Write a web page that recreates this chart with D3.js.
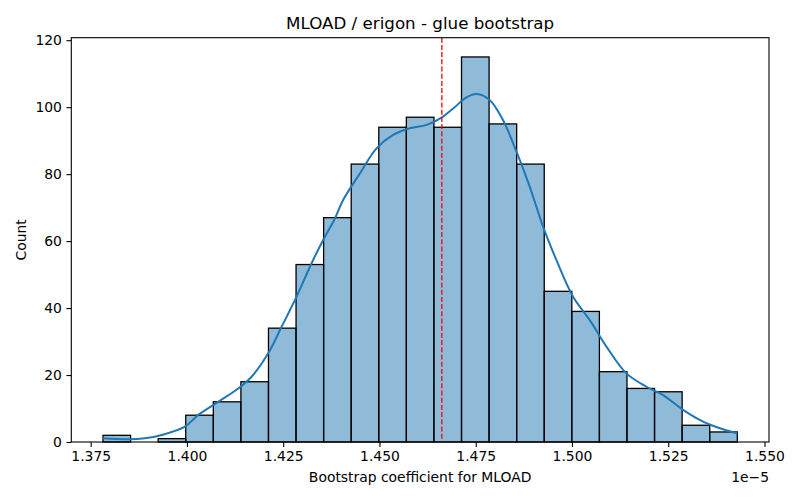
<!DOCTYPE html>
<html>
<head>
<meta charset="utf-8">
<script src="https://cdn.jsdelivr.net/npm/d3@7"></script>
<style>
  body { margin: 0; background: #fff; }
  svg { display: block; font-family: "DejaVu Sans", sans-serif; }
</style>
</head>
<body>
<svg id="chart" width="800" height="500"></svg>
<script>
// Histogram data (values in units of 1e-5)
const binStart = 1.37820;
const binEnd = 1.54293;
const counts = [2, 0, 1, 8, 12, 18, 34, 53, 67, 83, 94, 97, 94, 115, 95, 83, 45, 39, 21, 16, 15, 5, 3];
const xTicks = [1.375, 1.400, 1.425, 1.450, 1.475, 1.500, 1.525, 1.550];
const yTicks = [0, 20, 40, 60, 80, 100, 120];
const meanLine = 1.4662;
// KDE curve (x in 1e-5 units, y in counts)
const kdeX = [1.37820, 1.38476, 1.38909, 1.39343, 1.39948, 1.40293, 1.40812, 1.41331, 1.41679, 1.42110,
              1.42458, 1.42847, 1.43237, 1.43582, 1.43824, 1.44057, 1.44491, 1.44924, 1.45355, 1.45789,
              1.46222, 1.46612, 1.46913, 1.47261, 1.47520, 1.47866, 1.48211, 1.48559, 1.48904, 1.49249,
              1.49597, 1.50028, 1.50462, 1.50895, 1.51414, 1.51933, 1.52364, 1.52884, 1.53403, 1.53922, 1.54293];
const kdeY = [1.1, 0.8, 1.1, 2.1, 4.6, 8.1, 12.0, 16.0, 19.5, 26.5,
              34.4, 43.4, 53.4, 61.3, 66.3, 72.3, 80.2, 87.7, 91.7, 93.7,
              94.7, 96.9, 99.6, 102.9, 103.9, 102.1, 96.1, 86.7, 76.2, 64.3,
              54.3, 43.4, 36.4, 28.5, 20.5, 16.5, 14.0, 9.6, 6.1, 3.8, 2.6];
const title = "MLOAD / erigon - glue bootstrap";
const xLabel = "Bootstrap coefficient for MLOAD";
const yLabel = "Count";
const offsetText = "1e\u22125";

const svg = d3.select("#chart");
const L = 71.3, T = 37.7, R = 769, B = 442;
const W = R - L, H = B - T;

const span = binEnd - binStart;
const x = d3.scaleLinear().domain([binStart - 0.05 * span, binEnd + 0.05 * span]).range([L, R]);
const y = d3.scaleLinear().domain([0, d3.max(counts) * 1.05]).range([B, T]);

const bw = span / counts.length;
const bins = counts.map((c, i) => ({ x0: binStart + i * bw, x1: binStart + (i + 1) * bw, c }));

const g = svg.append("g");
g.selectAll("rect.bar").data(bins.filter(d => d.c > 0)).enter().append("rect")
  .attr("class", "bar")
  .attr("x", d => x(d.x0))
  .attr("width", d => x(d.x1) - x(d.x0))
  .attr("y", d => y(d.c))
  .attr("height", d => y(0) - y(d.c))
  .attr("fill", "rgba(31,119,180,0.5)")
  .attr("stroke", "#000")
  .attr("stroke-width", 1.3);

const line = d3.line().x(d => x(d[0])).y(d => y(d[1])).curve(d3.curveCatmullRom.alpha(0.5));
g.append("path")
  .datum(kdeX.map((v, i) => [v, kdeY[i]]))
  .attr("d", line)
  .attr("fill", "none")
  .attr("stroke", "#1f77b4")
  .attr("stroke-width", 2);

g.append("line")
  .attr("x1", x(meanLine)).attr("x2", x(meanLine))
  .attr("y1", T).attr("y2", B)
  .attr("stroke", "#ff0000").attr("stroke-width", 1.3)
  .attr("stroke-dasharray", "5,2.2");

// spines
svg.append("rect").attr("x", L).attr("y", T).attr("width", W).attr("height", H)
  .attr("fill", "none").attr("stroke", "#000").attr("stroke-width", 1.1);

const fs = "13.9px";
const xAxis = svg.append("g").attr("transform", `translate(0,${B})`)
  .call(d3.axisBottom(x).tickValues(xTicks).tickFormat(d3.format(".3f")).tickSize(4.9).tickSizeOuter(0).tickPadding(4.5));
const yAxis = svg.append("g").attr("transform", `translate(${L},0)`)
  .call(d3.axisLeft(y).tickValues(yTicks).tickFormat(d3.format("d")).tickSize(4.9).tickSizeOuter(0).tickPadding(4.5));
[xAxis, yAxis].forEach(a => {
  a.select(".domain").remove();
  a.selectAll("line").attr("stroke", "#000").attr("stroke-width", 1.1);
  a.selectAll("text").attr("font-size", fs).attr("fill", "#000").attr("font-family", "DejaVu Sans");
});

svg.append("text").attr("x", (L + R) / 2).attr("y", 29).attr("text-anchor", "middle")
  .attr("font-size", "16.7px").attr("fill", "#000").text(title);
svg.append("text").attr("x", (L + R) / 2).attr("y", 482).attr("text-anchor", "middle")
  .attr("font-size", fs).attr("fill", "#000").text(xLabel);
svg.append("text").attr("x", R).attr("y", 482).attr("text-anchor", "end")
  .attr("font-size", fs).attr("fill", "#000").text(offsetText);
svg.append("text").attr("transform", `translate(26,${(T + B) / 2}) rotate(-90)`).attr("text-anchor", "middle")
  .attr("font-size", fs).attr("fill", "#000").text(yLabel);
</script>
</body>
</html>
